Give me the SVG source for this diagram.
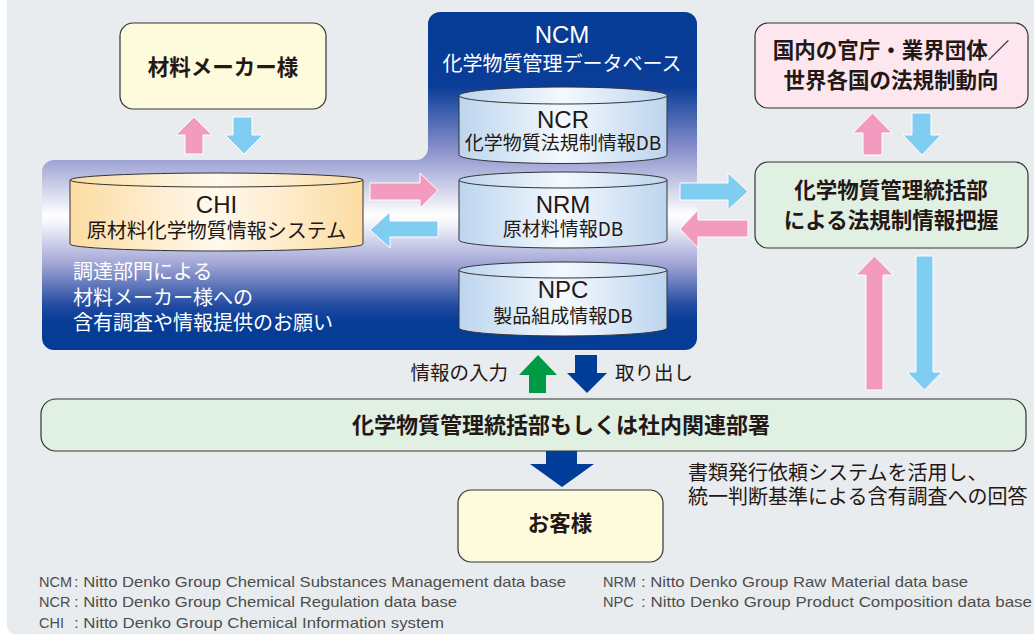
<svg xmlns="http://www.w3.org/2000/svg" width="1034" height="636" viewBox="0 0 1034 636">
<defs>
<linearGradient id="gBlue" gradientUnits="userSpaceOnUse" x1="0" y1="12" x2="0" y2="350">
<stop offset="0" stop-color="#053c96"/>
<stop offset="0.22" stop-color="#0a3d97"/>
<stop offset="0.41" stop-color="#8c92cc"/>
<stop offset="0.6" stop-color="#ffffff"/>
<stop offset="0.63" stop-color="#f2f2fa"/>
<stop offset="0.75" stop-color="#9ea2d4"/>
<stop offset="0.87" stop-color="#1f4aa0"/>
<stop offset="0.92" stop-color="#053c96"/>
<stop offset="1" stop-color="#053c96"/>
</linearGradient>
<linearGradient id="gCylB" x1="0" y1="0" x2="1" y2="0">
<stop offset="0" stop-color="#bcd5ee"/>
<stop offset="0.5" stop-color="#f4f9fe"/>
<stop offset="1" stop-color="#bcd5ee"/>
</linearGradient>
<linearGradient id="gCylO" x1="0" y1="0" x2="1" y2="0">
<stop offset="0" stop-color="#fcdca2"/>
<stop offset="0.5" stop-color="#fff9ee"/>
<stop offset="1" stop-color="#fcdca2"/>
</linearGradient>
<style>
.jp{font-family:"Noto Sans CJK JP","Liberation Sans",sans-serif;fill:#231815}
.bold{font-weight:700}
.lat{font-family:"Liberation Sans","Noto Sans CJK JP",sans-serif;fill:#231815}
.wh{fill:#ffffff}
.box{stroke:#333333;stroke-width:1.2}
.cyl{stroke:#333333;stroke-width:1}
.pink{fill:#f29bbf;stroke:#ffffff;stroke-width:1}
.lblue{fill:#7fcdf1;stroke:#ffffff;stroke-width:1}
.dblue{fill:#003d99}
.green{fill:#009944}
.note{font-family:"Liberation Sans",sans-serif;font-size:14.5px;fill:#4d4d4d}
</style>
</defs>
<rect x="0" y="0" width="1034" height="636" fill="#ffffff"/>
<path d="M7 0 H1034 V634 H15 A8 8 0 0 1 7 626 Z" fill="#e9ecef"/>

<g id="ncm-area">
<path d="M440 12 H685 A12 12 0 0 1 697 24 V338 A12 12 0 0 1 685 350 H54 A12 12 0 0 1 42 338 V172 A12 12 0 0 1 54 160 H416 A12 12 0 0 0 428 148 V24 A12 12 0 0 1 440 12 Z" fill="url(#gBlue)"/>
<text class="lat wh" x="562" y="43" font-size="24" text-anchor="middle">NCM</text>
<text class="jp wh" x="562" y="71" font-size="20" text-anchor="middle">化学物質管理データベース</text>
<text class="jp wh" x="73" y="279" font-size="20">調達部門による</text>
<text class="jp wh" x="73" y="305" font-size="20">材料メーカー様への</text>
<text class="jp wh" x="73" y="330" font-size="20">含有調査や情報提供のお願い</text>
</g>

<g id="chi">
<path class="cyl" d="M70 180 V244 A146.5 7 0 0 0 363 244 V180 Z" fill="url(#gCylO)"/>
<ellipse class="cyl" cx="216.5" cy="180" rx="146.5" ry="7" fill="url(#gCylO)"/>
<text class="lat" x="216.5" y="213" font-size="24" text-anchor="middle">CHI</text>
<text class="jp" x="216.5" y="238" font-size="20" text-anchor="middle">原材料化学物質情報システム</text>
</g>

<g id="ncr">
<path class="cyl" d="M459 95.5 V155 A104 8.5 0 0 0 667 155 V95.5 Z" fill="url(#gCylB)"/>
<ellipse class="cyl" cx="563" cy="95.5" rx="104" ry="8.5" fill="url(#gCylB)"/>
<text class="lat" x="563" y="128" font-size="24" text-anchor="middle">NCR</text>
<text class="jp" x="563" y="150" font-size="19" text-anchor="middle">化学物質法規制情報DB</text>
</g>

<g id="nrm">
<path class="cyl" d="M459 180 V240 A104 8 0 0 0 667 240 V180 Z" fill="url(#gCylB)"/>
<ellipse class="cyl" cx="563" cy="180" rx="104" ry="8" fill="url(#gCylB)"/>
<text class="lat" x="563" y="213" font-size="24" text-anchor="middle">NRM</text>
<text class="jp" x="563" y="236" font-size="19" text-anchor="middle">原材料情報DB</text>
</g>

<g id="npc">
<path class="cyl" d="M459 270 V328 A104 8 0 0 0 667 328 V270 Z" fill="url(#gCylB)"/>
<ellipse class="cyl" cx="563" cy="270" rx="104" ry="8" fill="url(#gCylB)"/>
<text class="lat" x="563" y="298" font-size="24" text-anchor="middle">NPC</text>
<text class="jp" x="563" y="323" font-size="19" text-anchor="middle">製品組成情報DB</text>
</g>

<g id="maker">
<rect class="box" x="120" y="23" width="206" height="86" rx="13" fill="#fefadc"/>
<text class="jp bold" x="223" y="75" font-size="21.5" text-anchor="middle">材料メーカー様</text>
</g>

<g id="gov">
<rect class="box" x="755" y="23" width="273" height="85" rx="13" fill="#fde6ee"/>
<text class="jp bold" x="891" y="58" font-size="21.5" text-anchor="middle">国内の官庁・業界団体／</text>
<text class="jp bold" x="891" y="88" font-size="21.5" text-anchor="middle">世界各国の法規制動向</text>
</g>

<g id="reg">
<rect class="box" x="755" y="162" width="273" height="86" rx="13" fill="#e0f0e3"/>
<text class="jp bold" x="891" y="198" font-size="21.5" text-anchor="middle">化学物質管理統括部</text>
<text class="jp bold" x="891" y="228" font-size="21.5" text-anchor="middle">による法規制情報把握</text>
</g>

<g id="dept">
<rect class="box" x="41" y="399" width="985" height="52" rx="15" fill="#e0f0e3"/>
<text class="jp bold" x="561" y="433" font-size="22" text-anchor="middle">化学物質管理統括部もしくは社内関連部署</text>
</g>

<g id="customer">
<rect class="box" x="458" y="490" width="205" height="72" rx="13" fill="#fefadc"/>
<text class="jp bold" x="560" y="531" font-size="21.5" text-anchor="middle">お客様</text>
</g>

<g id="connectors">
<polygon class="pink" points="185,154 185,135 176,135 194,117 212,135 203,135 203,154"/>
<polygon class="lblue" points="233,117 252,117 252,135 263,135 244,154 225,135 233,135"/>
<polygon class="pink" points="370,183 420,183 420,173 438,190.5 420,208 420,200 370,200"/>
<polygon class="lblue" points="438,221 390,221 390,212 370,230 390,248 390,237 438,237"/>
<polygon class="lblue" points="680,183 728,183 728,173 748,191.5 728,210 728,200 680,200"/>
<polygon class="pink" points="748,220 698,220 698,210 680,229 698,248 698,237 748,237"/>
<polygon class="pink" points="863,155 863,133 853,133 872.5,113 892,133 882,133 882,155"/>
<polygon class="lblue" points="912,113 931,113 931,135 941,135 922,155 903,135 912,135"/>
<polygon class="pink" points="866,390 866,275 856,275 874.5,256 893,275 883,275 883,390"/>
<polygon class="lblue" points="916,256 933,256 933,372 942,372 924.5,390 907,372 916,372"/>
<polygon class="green" points="529,393 529,375 519,375 538,355 557,375 546,375 546,393"/>
<polygon class="dblue" points="575,355 597,355 597,373 607,373 587,393 567,373 575,373"/>
<polygon class="dblue" points="546,451 577,451 577,464 594,464 562,487 530,464 546,464"/>
<text class="jp" x="508" y="380" font-size="19.5" text-anchor="end">情報の入力</text>
<text class="jp" x="615" y="380" font-size="19.5">取り出し</text>
<text class="jp" x="688" y="480" font-size="20">書類発行依頼システムを活用し、</text>
<text class="jp" x="688" y="504" font-size="20">統一判断基準による含有調査への回答</text>
</g>

<g id="notes">
<text class="note" y="587"><tspan x="39">NCM</tspan><tspan x="74" textLength="492" lengthAdjust="spacingAndGlyphs">: Nitto Denko Group Chemical Substances Management data base</tspan></text>
<text class="note" y="607"><tspan x="39">NCR</tspan><tspan x="74" textLength="383" lengthAdjust="spacingAndGlyphs">: Nitto Denko Group Chemical Regulation data base</tspan></text>
<text class="note" y="628"><tspan x="39">CHI</tspan><tspan x="74" textLength="370" lengthAdjust="spacingAndGlyphs">: Nitto Denko Group Chemical Information system</tspan></text>
<text class="note" y="587"><tspan x="603">NRM</tspan><tspan x="641" textLength="327" lengthAdjust="spacingAndGlyphs">: Nitto Denko Group Raw Material data base</tspan></text>
<text class="note" y="607"><tspan x="603">NPC</tspan><tspan x="641" textLength="391" lengthAdjust="spacingAndGlyphs">: Nitto Denko Group Product Composition data base</tspan></text>
</g>
</svg>
